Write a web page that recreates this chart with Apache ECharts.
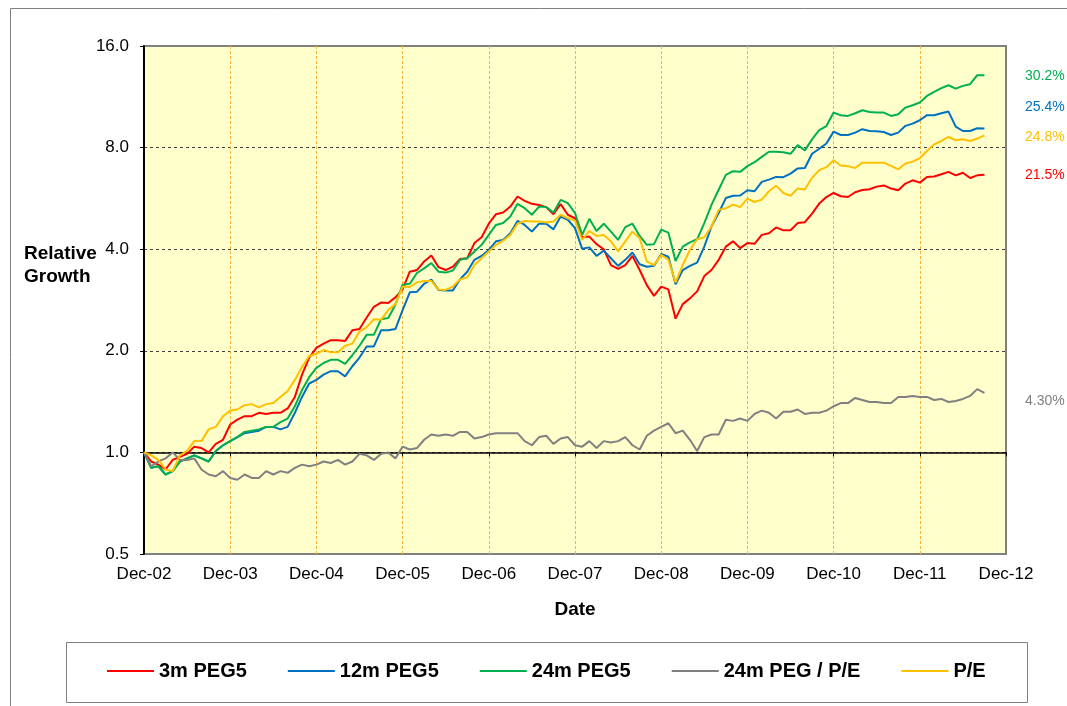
<!DOCTYPE html>
<html>
<head>
<meta charset="utf-8">
<script src="https://cdn.jsdelivr.net/npm/echarts@6/dist/echarts.min.js"></script>
<style>
  html, body { margin: 0; padding: 0; background: #fff; }
  #chart { width: 1067px; height: 706px; }
</style>
</head>
<body>
<div id="chart"></div>
<script>
// monthly relative growth, Dec-02 .. Sep-12 (index 0 = Dec-02)
var yearLabels = ['Dec-02', 'Dec-03', 'Dec-04', 'Dec-05', 'Dec-06', 'Dec-07', 'Dec-08', 'Dec-09', 'Dec-10', 'Dec-11', 'Dec-12'];
var yTicks = [0.5, 16];

var peg3m = [1.00,0.94,0.92,0.89,0.95,0.97,0.99,1.04,1.03,1.00, 1.06,1.09,1.21,1.25,1.28,1.28,1.31,1.30,1.31,1.31,
    1.35,1.46,1.70,1.91,2.04,2.10,2.15,2.15,2.14,2.30, 2.32,2.51,2.70,2.78,2.77,2.88,3.04,3.43,3.47,3.68,
    3.83,3.54,3.47,3.55,3.74,3.76,4.17,4.34,4.76,5.08, 5.14,5.35,5.73,5.56,5.45,5.41,5.33,5.08,5.44,5.06,
    4.94,4.34,4.36,4.14,4.00,3.59,3.50,3.59,3.82,3.47, 3.13,2.91,3.10,3.04,2.49,2.75,2.86,3.00,3.33,3.47,
    3.72,4.07,4.22,4.03,4.17,4.15,4.41,4.46,4.64,4.55, 4.55,4.78,4.81,5.10,5.46,5.71,5.87,5.74,5.71,5.90,
    5.99,6.02,6.13,6.18,6.05,5.98,6.26,6.40,6.30,6.55, 6.57,6.67,6.78,6.62,6.74,6.50,6.62,6.65];

var peg12m = [1.00,0.90,0.91,0.86,0.88,0.94,0.96,0.98,0.96,0.94, 1.01,1.05,1.08,1.11,1.14,1.15,1.16,1.19,1.19,1.17,
    1.19,1.31,1.46,1.60,1.64,1.70,1.74,1.74,1.68,1.80, 1.91,2.06,2.06,2.30,2.30,2.32,2.64,2.98,2.99,3.16,
    3.25,3.03,3.02,3.02,3.26,3.43,3.72,3.82,3.98,4.22, 4.26,4.46,4.85,4.72,4.51,4.76,4.76,4.58,5.00,4.89,
    4.62,4.01,4.05,3.82,3.96,3.76,3.57,3.72,3.91,3.61, 3.55,3.57,3.87,3.80,3.15,3.47,3.57,3.65,4.07,4.67,
    5.12,5.67,5.76,5.77,5.98,5.94,6.33,6.43,6.55,6.54, 6.70,6.94,6.96,7.67,7.94,8.23,8.92,8.72,8.72,8.86,
    9.07,8.96,8.94,8.90,8.72,8.86,9.28,9.42,9.64,9.98, 9.98,10.11,10.23,9.23,8.96,8.96,9.13,9.11];

var peg24m = [1.00,0.90,0.91,0.86,0.88,0.94,0.96,0.98,0.96,0.94, 1.01,1.05,1.08,1.11,1.15,1.16,1.17,1.19,1.19,1.23,
    1.26,1.37,1.53,1.67,1.78,1.84,1.88,1.88,1.83,1.94, 2.07,2.23,2.23,2.48,2.50,2.74,3.14,3.16,3.40,3.51,
    3.64,3.43,3.41,3.46,3.72,3.76,3.94,4.12,4.41,4.72, 4.78,5.00,5.45,5.29,5.06,5.35,5.33,5.14,5.60,5.48,
    5.12,4.41,4.92,4.53,4.76,4.51,4.26,4.65,4.76,4.38, 4.12,4.14,4.57,4.48,3.69,4.07,4.19,4.28,4.78,5.41,
    6.00,6.64,6.81,6.78,7.05,7.24,7.51,7.78,7.78,7.75, 7.67,8.14,7.85,8.46,9.02,9.27,10.16,9.98,9.93,10.11,
    10.32,10.20,10.16,10.16,9.93,10.04,10.51,10.68,10.88,11.38, 11.70,12.00,12.24,11.96,12.19,12.33,13.11,13.11];

var pegPe = [1.00,0.91,0.94,0.96,1.00,0.95,0.95,0.96,0.89,0.86, 0.85,0.88,0.84,0.83,0.86,0.84,0.84,0.88,0.86,0.88,
    0.87,0.90,0.92,0.91,0.92,0.94,0.93,0.95,0.92,0.94, 0.99,0.98,0.95,0.99,1.00,0.96,1.04,1.02,1.03,1.09,
    1.13,1.12,1.13,1.12,1.15,1.15,1.10,1.11,1.13,1.14, 1.14,1.14,1.14,1.08,1.05,1.11,1.12,1.06,1.10,1.11,
    1.05,1.04,1.08,1.03,1.08,1.07,1.08,1.11,1.05,1.02, 1.12,1.16,1.19,1.22,1.14,1.16,1.09,1.01,1.11,1.13,
    1.13,1.25,1.24,1.26,1.24,1.30,1.33,1.31,1.26,1.32, 1.32,1.34,1.30,1.31,1.31,1.33,1.37,1.40,1.40,1.45,
    1.43,1.41,1.41,1.40,1.40,1.46,1.46,1.47,1.46,1.46, 1.43,1.44,1.41,1.42,1.44,1.47,1.54,1.50];

var pe = [1.00,0.98,0.95,0.89,0.88,0.98,1.01,1.08,1.08,1.17, 1.19,1.28,1.33,1.34,1.38,1.39,1.36,1.39,1.40,1.46,
    1.52,1.64,1.79,1.93,1.96,2.01,1.98,1.98,2.07,2.10, 2.28,2.35,2.48,2.47,2.64,2.75,3.10,3.09,3.19,3.22,
    3.22,3.04,3.03,3.10,3.26,3.30,3.59,3.76,3.94,4.12, 4.24,4.41,4.76,4.85,4.83,4.83,4.80,4.83,5.06,4.94,
    4.86,4.26,4.53,4.38,4.41,4.22,3.94,4.22,4.51,4.31, 3.68,3.59,3.85,3.72,3.19,3.59,3.98,4.28,4.34,4.67,
    5.23,5.29,5.42,5.33,5.65,5.52,5.61,5.94,6.17,5.87, 5.76,6.05,6.01,6.51,6.86,7.00,7.34,7.08,7.05,6.96,
    7.22,7.22,7.22,7.22,7.06,6.90,7.18,7.27,7.44,7.82, 8.18,8.37,8.60,8.41,8.47,8.37,8.51,8.70];

var seriesNames = ['3m PEG5', '12m PEG5', '24m PEG5', '24m PEG / P/E', 'P/E'];
var seriesData = [peg3m, peg12m, peg24m, pegPe, pe];
var seriesColors = ['#FF0000', '#0070C0', '#00B050', '#808080', '#FFC000'];
var growthLabels = ['21.5%', '25.4%', '30.2%', '4.30%', '24.8%'];

var FONT = "'Liberation Sans', Arial, sans-serif";
var gridLeft = 144, gridTop = 46, gridWidth = 862, gridHeight = 508;

var chart = echarts.init(document.getElementById('chart'), null, { renderer: 'canvas' });

function toPoints(arr) {
    return arr.map(function (v, i) { return [i, v]; });
}

var series = seriesNames.map(function (name, k) {
    return {
        name: name,
        type: 'line',
        data: toPoints(seriesData[k]),
        showSymbol: false,
        symbol: 'none',
        animation: false,
        lineStyle: { color: seriesColors[k], width: 2 },
        itemStyle: { color: seriesColors[k] },
        z: 3 + k
    };
});

// percentage labels at the right of the plot
var labelY = [176, 108, 77, 402, 138];
var graphics = [
    { type: 'rect', shape: { x: 10.5, y: 8.5, width: 1200, height: 900 },
      style: { fill: 'none', stroke: '#7F7F7F', lineWidth: 1 }, silent: true },
    { type: 'rect', shape: { x: 66.5, y: 642.5, width: 961, height: 60 },
      style: { fill: 'none', stroke: '#7F7F7F', lineWidth: 1 }, silent: true },
    { type: 'text', left: 24, top: 244, style: { text: 'Relative', font: 'bold 19px ' + FONT, fill: '#000' } },
    { type: 'text', left: 24, top: 267, style: { text: 'Growth', font: 'bold 19px ' + FONT, fill: '#000' } }
];
growthLabels.forEach(function (t, k) {
    graphics.push({
        type: 'text', left: 1025, top: labelY[k] - 8,
        style: { text: t, font: '14px ' + FONT, fill: seriesColors[k] }
    });
});

var option = {
    backgroundColor: '#fff',
    animation: false,
    textStyle: { fontFamily: FONT },
    grid: {
        left: gridLeft, top: gridTop, width: gridWidth, height: gridHeight,
        show: true, backgroundColor: '#FFFFCC', borderColor: '#808080', borderWidth: 2
    },
    legend: {
        data: seriesNames,
        left: 107, top: 661, padding: 0,
        icon: 'rect', itemWidth: 47, itemHeight: 2, itemGap: 41,
        textStyle: { fontSize: 20, fontWeight: 'bold', color: '#000', fontFamily: FONT }
    },
    xAxis: [{
        type: 'value', min: 0, max: 120, interval: 12,
        name: 'Date', nameLocation: 'middle', nameGap: 46,
        nameTextStyle: { fontSize: 19, fontWeight: 'bold', color: '#000' },
        axisLine: { show: false },
        axisTick: { show: false },
        axisLabel: {
            fontSize: 17, color: '#000', margin: 12,
            formatter: function (v) { return yearLabels[Math.round(v / 12)]; }
        },
        splitLine: { show: true, showMinLine: false, showMaxLine: false,
            lineStyle: { color: '#F7B23B', width: 1, type: [3, 2] } }
    }, {
        // the 1.0 base line with its year ticks
        type: 'value', min: 0, max: 120, interval: 12, position: 'bottom',
        offset: -gridHeight / 5,
        axisLine: { show: true, lineStyle: { color: '#000', width: 1.5 } },
        axisTick: { show: true, inside: false, length: 4, lineStyle: { color: '#000' } },
        axisLabel: { show: false },
        splitLine: { show: false }
    }],
    yAxis: {
        type: 'log', logBase: 2, min: yTicks[0], max: yTicks[1],
        axisLine: { show: true, lineStyle: { color: '#000', width: 2 } },
        axisTick: { show: true, inside: false, length: 4, lineStyle: { color: '#000' } },
        axisLabel: {
            fontSize: 17, color: '#000', margin: 15,
            formatter: function (v) { return v.toFixed(1); }
        },
        splitLine: { show: true, showMinLine: false, showMaxLine: false,
            lineStyle: { color: '#404040', width: 1, type: [3, 3] } }
    },
    graphic: graphics,
    series: series
};
chart.setOption(option);
</script>
</body>
</html>
